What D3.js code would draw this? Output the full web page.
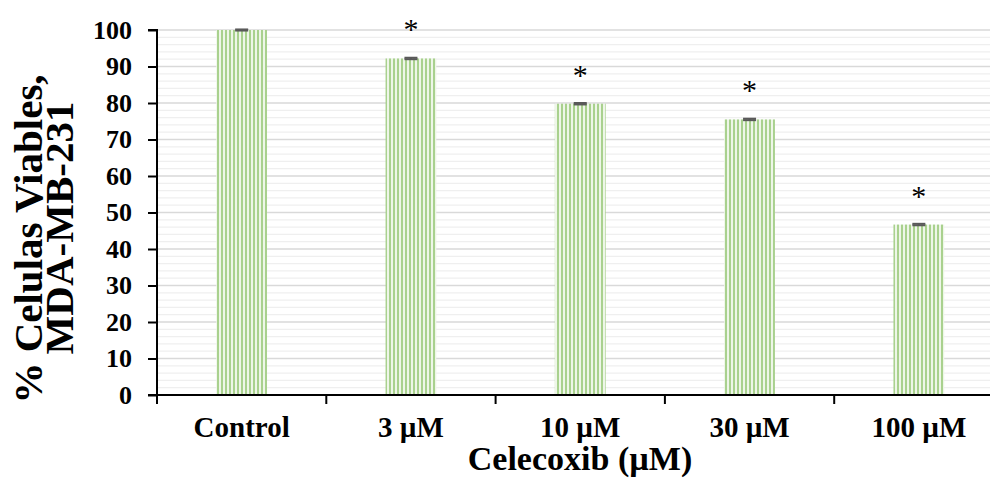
<!DOCTYPE html>
<html>
<head>
<meta charset="utf-8">
<script src="https://cdn.jsdelivr.net/npm/d3@7"></script>
<style>
  body { margin: 0; background: #fff; }
  svg { display: block; font-family: "Liberation Serif", "Times New Roman", serif; }
</style>
</head>
<body>
<svg id="chart" width="990" height="478"></svg>
<script>
// --- Data ---
const categories = ["Control", "3 µM", "10 µM", "30 µM", "100 µM"];
const viability = [100, 92.2, 79.8, 75.5, 46.7];
const errors = [0.15, 0.2, 0.2, 0.2, 0.2];
const marks = ["", "*", "*", "*", "*"];
const yTicks = [0, 10, 20, 30, 40, 50, 60, 70, 80, 90, 100];

// --- Layout ---
const plotLeft = 157, plotRight = 1003.5, plotTop = 30, plotBottom = 395;

const svg = d3.select("#chart");

const x = d3.scaleBand().domain(categories).range([plotLeft, plotRight]).paddingInner(0.7).paddingOuter(0.35);
const xTickScale = d3.scaleLinear().domain([0, categories.length]).range([plotLeft, plotRight]);
const y = d3.scaleLinear().domain([0, 100]).range([plotBottom, plotTop]);

// striped fill
const defs = svg.append("defs");
const pat = defs.append("pattern")
    .attr("id", "stripes")
    .attr("patternUnits", "userSpaceOnUse")
    .attr("width", 4).attr("height", 10);
pat.append("rect").attr("width", 4).attr("height", 10).attr("fill", "#eef6e8");
pat.append("rect").attr("x", 1).attr("width", 2).attr("height", 10).attr("fill", "#a9d18e");

// minor gridlines (every 2)
svg.append("g")
    .selectAll("line")
    .data(d3.range(2, 101, 2).filter(v => v % 10 !== 0))
    .join("line")
    .attr("x1", plotLeft).attr("x2", plotRight)
    .attr("y1", d => y(d)).attr("y2", d => y(d))
    .attr("stroke", "#efefef").attr("stroke-width", 1.3);

// major gridlines
svg.append("g")
    .selectAll("line")
    .data(yTicks.filter(v => v > 0))
    .join("line")
    .attr("x1", plotLeft).attr("x2", plotRight)
    .attr("y1", d => y(d)).attr("y2", d => y(d))
    .attr("stroke", "#d9d9d9").attr("stroke-width", 1.5);

// bars
svg.append("g")
    .selectAll("rect")
    .data(categories)
    .join("rect")
    .attr("x", d => x(d))
    .attr("width", x.bandwidth())
    .attr("y", (d, i) => y(viability[i]))
    .attr("height", (d, i) => y(0) - y(viability[i]))
    .attr("fill", "url(#stripes)");

// error bars
const eb = svg.append("g").attr("stroke", "#595959").attr("stroke-width", 2);
categories.forEach((c, i) => {
  const cx = x(c) + x.bandwidth() / 2;
  eb.append("line")
    .attr("x1", cx).attr("x2", cx)
    .attr("y1", y(viability[i] - errors[i])).attr("y2", y(viability[i] + errors[i]));
  [viability[i] - errors[i], viability[i] + errors[i]].forEach(v => {
    eb.append("line")
      .attr("x1", cx - 6.5).attr("x2", cx + 6.5)
      .attr("y1", y(v)).attr("y2", y(v));
  });
});

// significance marks
svg.append("g")
    .selectAll("text")
    .data(categories)
    .join("text")
    .attr("x", d => x(d) + x.bandwidth() / 2)
    .attr("y", (d, i) => y(viability[i]) - 19)
    .attr("text-anchor", "middle")
    .attr("font-size", 30)
    .attr("fill", "#000")
    .text((d, i) => marks[i]);

// y axis
const yAxis = svg.append("g")
    .attr("transform", `translate(${plotLeft},0)`)
    .call(d3.axisLeft(y).tickValues(yTicks).tickSize(9).tickPadding(16));
yAxis.select(".domain").attr("stroke", "#000").attr("stroke-width", 2).attr("d", `M-9,${plotTop}H0V${plotBottom}`);
yAxis.selectAll(".tick line").attr("stroke", "#000").attr("stroke-width", 2);
yAxis.selectAll(".tick text")
    .attr("font-size", 26).attr("font-weight", "bold").attr("fill", "#000")
    .attr("font-family", "Liberation Serif, serif");

// x axis
const xAxis = svg.append("g").attr("transform", `translate(0,${plotBottom})`);
xAxis.append("line")
    .attr("x1", plotLeft - 9).attr("x2", plotRight)
    .attr("stroke", "#000").attr("stroke-width", 2);
xAxis.selectAll(".xt")
    .data(d3.range(0, categories.length + 1))
    .join("line")
    .attr("class", "xt")
    .attr("x1", d => xTickScale(d)).attr("x2", d => xTickScale(d))
    .attr("y1", 0).attr("y2", 9)
    .attr("stroke", "#000").attr("stroke-width", 2);
xAxis.selectAll("text")
    .data(categories)
    .join("text")
    .attr("x", d => x(d) + x.bandwidth() / 2)
    .attr("y", 42)
    .attr("text-anchor", "middle")
    .attr("font-size", 29).attr("font-weight", "bold")
    .text(d => d);

// axis titles
svg.append("text")
    .attr("x", 580).attr("y", 470)
    .attr("text-anchor", "middle")
    .attr("font-size", 34).attr("font-weight", "bold")
    .text("Celecoxib (µM)");

const yt = svg.append("text")
    .attr("transform", "rotate(-90)")
    .attr("text-anchor", "middle")
    .attr("font-size", 41).attr("font-weight", "bold");
yt.append("tspan").attr("x", -239).attr("y", 42).text("% Celulas Viables,");
yt.append("tspan").attr("x", -228).attr("y", 73).text("MDA-MB-231");
</script>
</body>
</html>
